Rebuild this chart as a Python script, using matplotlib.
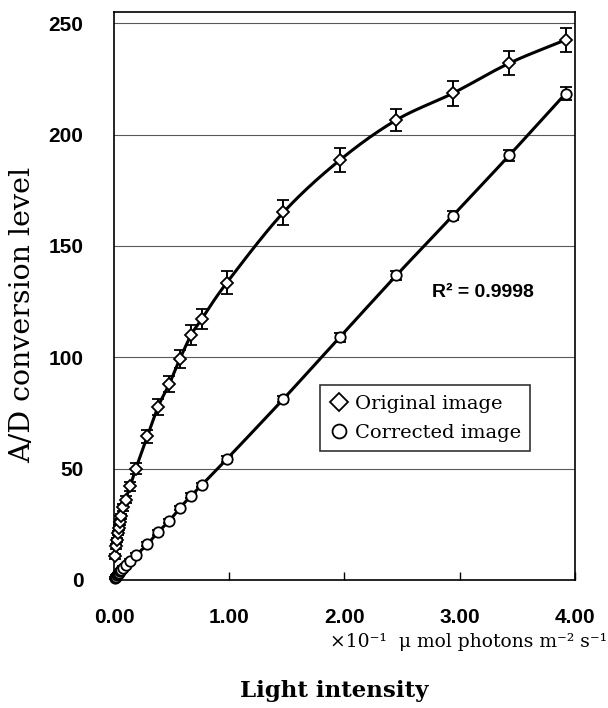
import numpy as np
import matplotlib
matplotlib.use("Agg")
import matplotlib.pyplot as plt
from matplotlib.lines import Line2D

# light intensity (x10^-1 umol photons m-2 s-1)
light = [0.005, 0.015, 0.025, 0.035, 0.045, 0.055, 0.065, 0.08, 0.10, 0.14,
         0.19, 0.29, 0.38, 0.48, 0.57, 0.67, 0.76, 0.98, 1.47, 1.96,
         2.45, 2.94, 3.43, 3.92]

original = [10.5, 15, 18, 21, 23.5, 26, 28.5, 32.5, 36, 42,
            50, 64.5, 77.5, 88, 99, 110, 117, 133.5, 165, 188.5,
            206.5, 218.5, 232, 242.5]
original_err = [1, 1, 1, 1, 1.2, 1.2, 1.2, 1.5, 1.5, 2,
                2.5, 3, 3.5, 3.5, 4, 4.5, 4.5, 5, 5.5, 5.5,
                5, 5.5, 5.5, 5.5]

corrected = [1, 1.5, 2, 2.7, 3.3, 3.9, 4.5, 5.5, 6.5, 8.6,
             11, 16, 21.3, 26.5, 32.2, 37.8, 42.5, 54.3, 81.2, 109,
             136.7, 163.5, 190.6, 218.4]
corrected_err = [0.5, 0.5, 0.5, 0.5, 0.5, 0.5, 0.5, 0.8, 0.8, 0.8,
                 1, 1, 1, 1, 1, 1, 1, 1.5, 1.5, 2,
                 2, 2, 2.5, 3]

r2_text = "R\u00b2 = 0.9998"
yticks = [0, 50, 100, 150, 200, 250]
xticks = [0, 1, 2, 3, 4]


def smooth(x, y, n=20):
    # catmull-rom curve through the points (like excel's smoothed line)
    x = np.asarray(x, float)
    y = np.asarray(y, float)
    px = np.concatenate([[2 * x[0] - x[1]], x, [2 * x[-1] - x[-2]]])
    py = np.concatenate([[2 * y[0] - y[1]], y, [2 * y[-1] - y[-2]]])
    t = np.linspace(0, 1, n)
    xs, ys = [], []
    for i in range(1, len(px) - 2):
        for p, out in ((px, xs), (py, ys)):
            p0, p1, p2, p3 = p[i - 1], p[i], p[i + 1], p[i + 2]
            out.append(0.5 * (2 * p1 + (-p0 + p2) * t
                              + (2 * p0 - 5 * p1 + 4 * p2 - p3) * t ** 2
                              + (-p0 + 3 * p1 - 3 * p2 + p3) * t ** 3))
    return np.concatenate(xs), np.concatenate(ys)


fig = plt.figure(figsize=(6.08, 7.08), dpi=100)
ax = fig.add_axes([0.1875, 0.181, 0.758, 0.802])

sx, sy = smooth(light, original)
ax.plot(sx, sy, color="black", lw=2.2, zorder=3)
ax.errorbar(light, original, yerr=original_err, fmt="D", ms=6, mfc="white",
            mec="black", mew=1.3, ecolor="black", elinewidth=1.4, capsize=4,
            capthick=1.4, zorder=4, clip_on=False)

sx, sy = smooth(light, corrected)
ax.plot(sx, sy, color="black", lw=2.2, zorder=3)
ax.errorbar(light, corrected, yerr=corrected_err, fmt="o", ms=7.5, mfc="white",
            mec="black", mew=1.3, ecolor="black", elinewidth=1.4, capsize=4,
            capthick=1.4, zorder=4, clip_on=False)

ax.set_xlim(0, 4)
ax.set_ylim(0, 255)
ax.set_yticks(yticks)
ax.set_xticks(xticks)
ax.set_xticklabels(["%.2f" % v for v in xticks])
for y in yticks[1:]:
    ax.axhline(y, color="0.35", lw=0.8, zorder=1)

for s in ax.spines.values():
    s.set_linewidth(1.2)
ax.tick_params(axis="x", direction="in", length=6, width=1, pad=20)
ax.tick_params(axis="y", length=0, pad=22)
for lab in ax.get_xticklabels() + ax.get_yticklabels():
    lab.set_fontfamily("Liberation Sans")
    lab.set_fontweight("bold")
    lab.set_fontsize(15)

ax.set_ylabel("A/D conversion level", family="DejaVu Serif", fontsize=20.5)
ax.yaxis.set_label_coords(-0.17, 0.467)
fig.text(0.998, 0.086, "\u00d710\u207b\u00b9  \u03bc mol photons m\u207b\u00b2 s\u207b\u00b9",
         family="DejaVu Serif", fontsize=13.5, ha="right", va="baseline")
fig.text(0.55, 0.016, "Light intensity", family="DejaVu Serif",
         fontweight="bold", fontsize=16.5, ha="center", va="baseline")

ax.text(0.69, 0.498, r2_text, transform=ax.transAxes, family="Liberation Sans",
        fontweight="bold", fontsize=14, va="baseline")

handles = [Line2D([], [], marker="D", ls="none", ms=9, mfc="white", mec="black", mew=1.3),
           Line2D([], [], marker="o", ls="none", ms=10, mfc="white", mec="black", mew=1.3)]
leg = ax.legend(handles, ["Original image", "Corrected image"],
                loc="upper left", bbox_to_anchor=(0.425, 0.36),
                prop={"family": "DejaVu Serif", "size": 14}, frameon=True,
                fancybox=False, edgecolor="black", handletextpad=0.3,
                handlelength=1.0, borderpad=0.5, labelspacing=0.55)
leg.get_frame().set_linewidth(1.2)

fig.savefig("out.png", dpi=100)
